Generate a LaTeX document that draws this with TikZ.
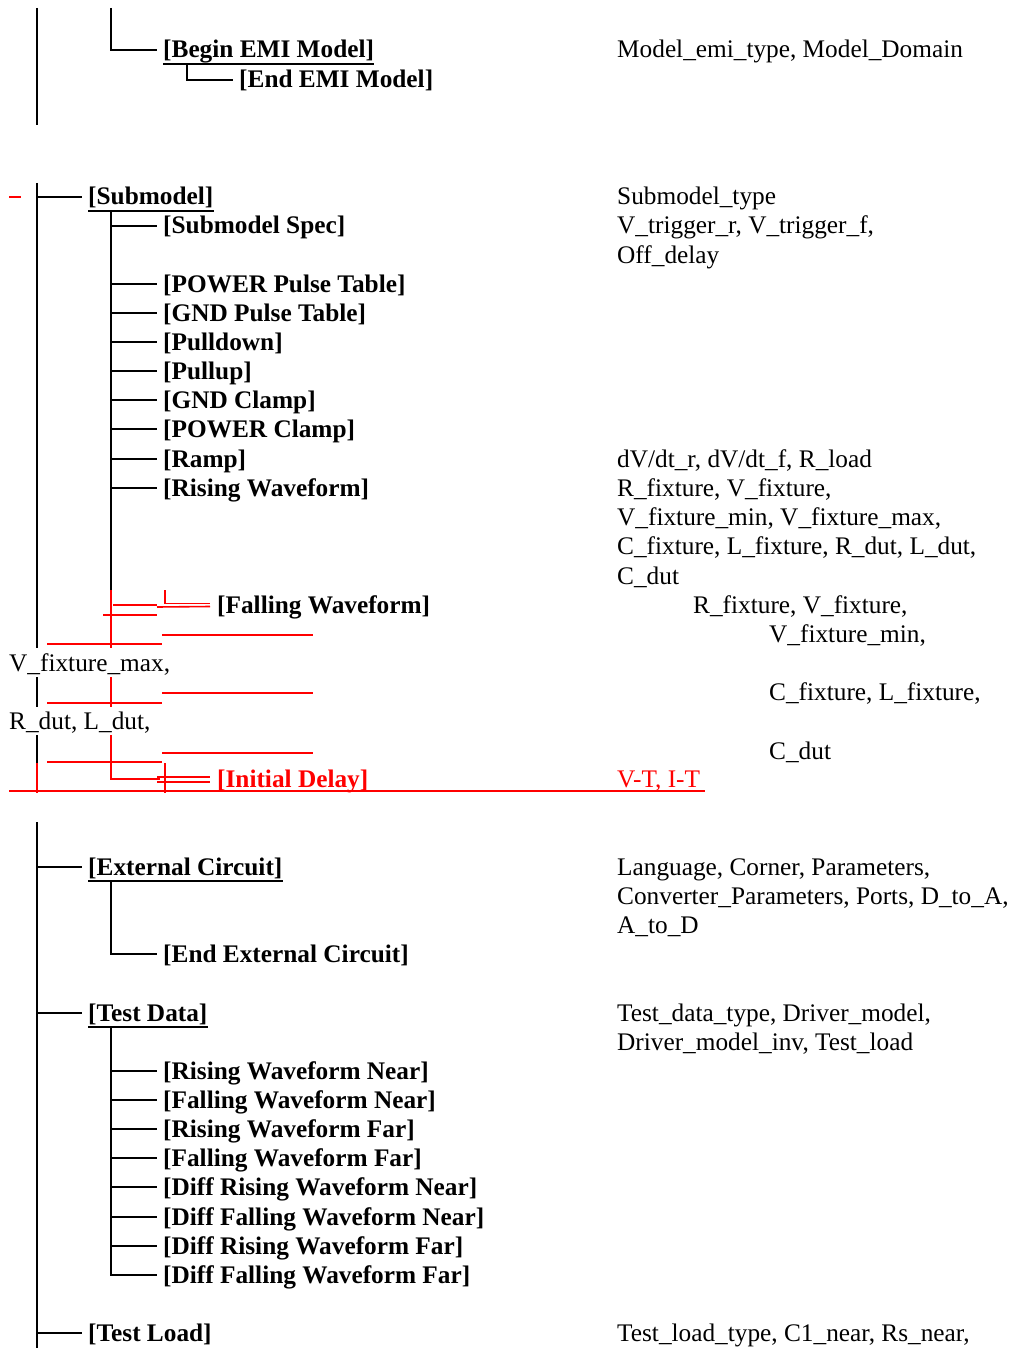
\documentclass[tikz,border=0pt]{standalone}
\usepackage{fontspec}
\setmainfont{Liberation Serif}
\tikzset{kw/.style={anchor=west, inner sep=0pt, text height=21.5pt, text depth=5.5pt,
    font=\fontsize{25.3}{29.2}\selectfont\bfseries},
  note/.style={anchor=base west, inner sep=0pt, font=\fontsize{25.3}{29.2}\selectfont},
  branch/.style={line width=1.6pt},
  diff/.style={line width=1.6pt, red},
  uline/.style={line width=1.8pt}}

\begin{document}
\begin{tikzpicture}[x=1pt, y=-1pt]
  \useasboundingbox (0,0) rectangle (1009,1348);

  % EMI model
  \coordinate (t0) at (37, 8);
  \coordinate (t0e) at (37, 125);
  \coordinate (e0) at (111, 8);
  \coordinate (e1) at (187, 65);
  \node (bem) [kw] at (163, 50) {[Begin EMI Model]};
  \node (eem) [kw] at (239, 80) {[End EMI Model]};
  \node (bemr) [note] at (617, 58) {Model\_emi\_type, Model\_Domain};

  \draw[branch] (t0) -- (t0e);
  \draw[branch] (e0) |- ([xshift=-6pt]bem.west);
  \draw[branch] (e1) |- ([xshift=-6pt]eem.west);
  \draw[uline] (bem.south west) -- (bem.south east);

  % Submodel
  \coordinate (t1) at (37, 183);
  \coordinate (t1e) at (37, 648);
  \coordinate (s0) at (111, 211);
  \coordinate (s0e) at (111, 590);
  \node (sub) [kw] at (88, 197) {[Submodel]};
  \foreach \n/\y/\t in {spec/226/{[Submodel Spec]}, ppt/284/{[POWER Pulse Table]},
      gpt/313/{[GND Pulse Table]}, pd/342/{[Pulldown]}, pu/371/{[Pullup]},
      gc/400/{[GND Clamp]}, pc/429/{[POWER Clamp]}, ramp/459/{[Ramp]},
      rw/488/{[Rising Waveform]}}
  {
    \node (\n) [kw] at (163, \y) {\t};
    \draw[branch] (s0 |- \n.west) -- ([xshift=-6pt]\n.west);
  }
  \node (subr1) [note] at (617, 205) {Submodel\_type};
  \node (subr2) [note] at (617, 234) {V\_trigger\_r, V\_trigger\_f,};
  \node (subr3) [note] at (617, 263) {Off\_delay};
  \node (rampr) [note] at (617, 467) {dV/dt\_r, dV/dt\_f, R\_load};
  \node (rwr1) [note] at (617, 496) {R\_fixture, V\_fixture,};
  \node (rwr2) [note] at (617, 525) {V\_fixture\_min, V\_fixture\_max,};
  \node (rwr3) [note] at (617, 554) {C\_fixture, L\_fixture, R\_dut, L\_dut,};
  \node (rwr4) [note] at (617, 584) {C\_dut};

  \draw[branch] (t1) -- (t1e);
  \draw[branch] (t1 |- sub.west) -- ([xshift=-6pt]sub.west);
  \draw[uline] (sub.south west) -- (sub.south east);
  \draw[branch] (s0) -- (s0e);
  \draw[diff] (9,197) -- (21,197);

  % Falling Waveform / Initial Delay (marked up)
  \node (fw) [kw] at (217, 605) {[Falling Waveform]};
  \node (idl) [kw, red] at (217, 779) {[Initial Delay]};
  \node (fwr1) [note] at (693, 613) {R\_fixture, V\_fixture,};
  \node (fwr2) [note] at (769, 642) {V\_fixture\_min,};
  \node (fwr3) [note] at (9, 671) {V\_fixture\_max,};
  \node (fwr4) [note] at (769, 700) {C\_fixture, L\_fixture,};
  \node (fwr5) [note] at (9, 729) {R\_dut, L\_dut,};
  \node (fwr6) [note] at (769, 759) {C\_dut};
  \node (idr) [note, red] at (617, 787) {V-T, I-T};

  \draw[diff] (s0e) -- (111, 648);
  \draw[diff] (113, 605) -- (157, 605);
  \draw[diff] (165, 590) |- ([xshift=-7pt, yshift=1.5pt]fw.west);
  \draw[diff] (157, 607) -- ([xshift=-7pt, yshift=-1.5pt]fw.west);
  \draw[diff] (103, 615) -- (157, 615);
  \draw[diff] (162, 635) -- (313, 635);
  \draw[diff] (47, 644) -- (162, 644);
  \draw[branch] (37, 677) -- (37, 707);
  \draw[diff] (111, 677) -- (111, 707);
  \draw[diff] (162, 693) -- (313, 693);
  \draw[diff] (47, 703) -- (162, 703);
  \draw[branch] (37, 735) -- (37, 763);
  \draw[diff] (37, 763) -- (37, 793);
  \draw[diff] (111, 735) |- (160, 779);
  \draw[diff] (162, 753) -- (313, 753);
  \draw[diff] (47, 762) -- (162, 762);
  \draw[diff] (165, 763) -- (165, 793);
  \draw[diff] (157, 777) -- ([xshift=-7pt, yshift=2pt]idl.west);
  \draw[diff] (157, 782) -- ([xshift=-7pt, yshift=-3pt]idl.west);
  \draw[diff] (9, 791) -- (705, 791);

  % External Circuit
  \coordinate (t2) at (37, 822);
  \coordinate (t2e) at (37, 1348);
  \coordinate (c0) at (111, 882);
  \node (ext) [kw] at (88, 867) {[External Circuit]};
  \node (eext) [kw] at (163, 954) {[End External Circuit]};
  \node (extr1) [note] at (617, 875) {Language, Corner, Parameters,};
  \node (extr2) [note] at (617, 904) {Converter\_Parameters, Ports, D\_to\_A,};
  \node (extr3) [note] at (617, 933) {A\_to\_D};

  \draw[branch] (t2) -- (t2e);
  \draw[branch] (t2 |- ext.west) -- ([xshift=-6pt]ext.west);
  \draw[uline] (ext.south west) -- (ext.south east);
  \draw[branch] (c0) |- ([xshift=-6pt]eext.west);

  % Test Data
  \coordinate (d0) at (111, 1028);
  \node (td) [kw] at (88, 1013) {[Test Data]};
  \node (tdr1) [note] at (617, 1021) {Test\_data\_type, Driver\_model,};
  \node (tdr2) [note] at (617, 1050) {Driver\_model\_inv, Test\_load};
  \foreach \n/\y/\t in {rwn/1071/{[Rising Waveform Near]}, fwn/1100/{[Falling Waveform Near]},
      rwf/1129/{[Rising Waveform Far]}, fwf/1158/{[Falling Waveform Far]},
      drwn/1187/{[Diff Rising Waveform Near]}, dfwn/1217/{[Diff Falling Waveform Near]},
      drwf/1246/{[Diff Rising Waveform Far]}, dfwf/1275/{[Diff Falling Waveform Far]}}
  {
    \node (\n) [kw] at (163, \y) {\t};
    \draw[branch] (d0) |- ([xshift=-6pt]\n.west);
  }

  \draw[branch] (t2 |- td.west) -- ([xshift=-6pt]td.west);
  \draw[uline] (td.south west) -- (td.south east);

  % Test Load
  \node (tl) [kw] at (88, 1333) {[Test Load]};
  \node (tlr) [note] at (617, 1341) {Test\_load\_type, C1\_near, Rs\_near,};
  \draw[branch] (t2 |- tl.west) -- ([xshift=-6pt]tl.west);
\end{tikzpicture}
\end{document}
